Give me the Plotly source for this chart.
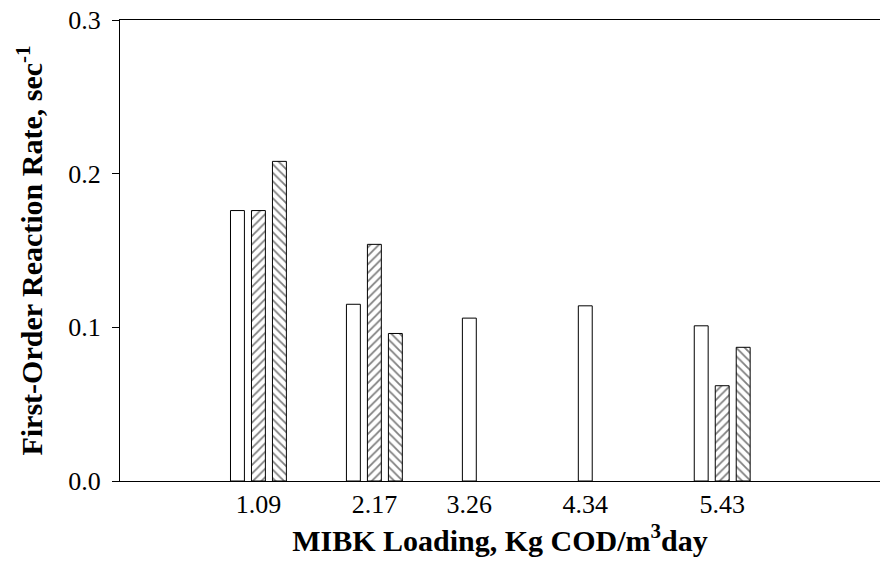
import numpy as np
import plotly.graph_objects as go

categories = ["1.09", "2.17", "3.26", "4.34", "5.43"]
series_a = [0.176, 0.115, 0.106, 0.114, 0.101]
series_b = [0.176, 0.154, None, None, 0.062]
series_c = [0.208, 0.096, None, None, 0.087]
y_ticks = [0.0, 0.1, 0.2, 0.3]

FONT = "Liberation Serif, Times New Roman, serif"
BARGAP = 0.457
BARGROUPGAP = 0.337

x = np.arange(len(categories))
series = [series_a, series_b, series_c]
shapes = ["", "/", "\\"]

fig = go.Figure()
for vals, shp in zip(series, shapes):
    fig.add_trace(go.Bar(
        x=x, y=vals,
        marker=dict(
            color="white",
            line=dict(color="black", width=1),
            pattern=dict(shape=shp, fgcolor="black", bgcolor="white", size=6, solidity=0.3),
        ),
        showlegend=False,
    ))

# tick label under the mean position of the bars present in each group
slot = (1 - BARGAP) / len(series)
offsets = [(k - (len(series) - 1) / 2) * slot for k in range(len(series))]
tickvals = []
for i in range(len(categories)):
    present = [offsets[k] for k, s in enumerate(series) if s[i] is not None]
    tickvals.append(i + float(np.mean(present)))

fig.update_layout(
    width=880, height=561,
    margin=dict(l=120, r=0, t=20, b=80),
    paper_bgcolor="white", plot_bgcolor="white",
    barmode="group", bargap=BARGAP, bargroupgap=BARGROUPGAP,
    font=dict(family=FONT, color="black", size=26),
)
fig.update_xaxes(
    range=[-1.194, 5.361],
    tickvals=tickvals, ticktext=categories,
    ticks="", showgrid=False, zeroline=False,
    showline=True, linecolor="black", linewidth=1.2, mirror=True,
    tickfont=dict(family=FONT, size=26),
    ticklabelstandoff=0,
    title=dict(text="<b>MIBK Loading, Kg COD/m<sup>3</sup>day</b>",
               font=dict(family=FONT, size=30), standoff=6),
)
fig.update_yaxes(
    range=[0, 0.3],
    tickvals=y_ticks, ticktext=[f"{v:.1f}" for v in y_ticks],
    ticks="outside", ticklen=7, tickwidth=1, tickcolor="black",
    showgrid=False, zeroline=False,
    showline=True, linecolor="black", linewidth=1.2,
    tickfont=dict(family=FONT, size=26),
    ticklabelstandoff=6,
    title=dict(text="<b>First-Order Reaction Rate, sec<sup>-1</sup></b>",
               font=dict(family=FONT, size=30), standoff=16),
)

fig.write_html("out.html")
